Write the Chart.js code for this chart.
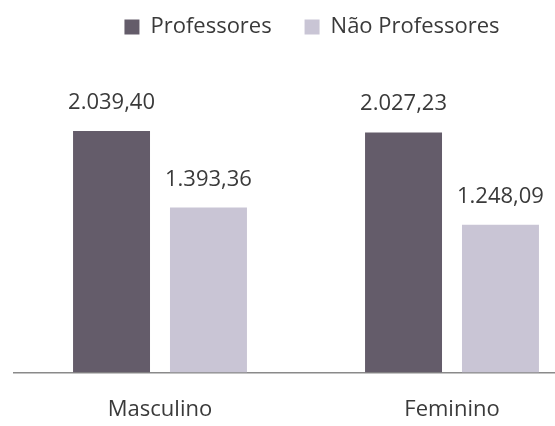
<!DOCTYPE html>
<html>
<head>
<meta charset="utf-8">
<script src="https://cdn.jsdelivr.net/npm/chart.js@4/dist/chart.umd.min.js"></script>
<style>
  html, body { margin: 0; padding: 0; background: #ffffff; overflow: hidden; }
  #wrap { width: 555px; height: 426px; overflow: hidden; position: relative; }
  canvas { display: block; }
</style>
</head>
<body>
<div id="wrap"><canvas id="c" width="600" height="451"></canvas></div>
<script>
const categories = ["Masculino", "Feminino"];
const seriesNames = ["Professores", "Não Professores"];
const professores = [2039.40, 2027.23];
const naoProfessores = [1393.36, 1248.09];

const textColor = "#3a3a3a";
const fontFamily = "'Open Sans', 'DejaVu Sans', sans-serif";

function formatBR(v) {
  const parts = v.toFixed(2).split(".");
  const intPart = parts[0].replace(/\B(?=(\d{3})+(?!\d))/g, ".");
  return intPart + "," + parts[1];
}

const valueLabels = {
  id: "valueLabels",
  afterDatasetsDraw(chart) {
    const ctx = chart.ctx;
    ctx.save();
    ctx.font = "22px " + fontFamily;
    ctx.fillStyle = textColor;
    ctx.textAlign = "center";
    ctx.textBaseline = "alphabetic";
    chart.data.datasets.forEach((ds, di) => {
      const meta = chart.getDatasetMeta(di);
      meta.data.forEach((bar, i) => {
        ctx.fillText(formatBR(ds.data[i]), bar.x, bar.y - 22);
      });
    });
    ctx.restore();
  }
};

const shiftLegend = {
  id: "shiftLegend",
  afterLayout(chart) {
    if (chart.legend) {
      chart.legend.left += 6;
      chart.legend.right += 6;
    }
  }
};

new Chart(document.getElementById("c"), {
  type: "bar",
  data: {
    labels: categories,
    datasets: [
      {
        label: seriesNames[0],
        data: professores,
        backgroundColor: "#645c6a",
        categoryPercentage: 0.664,
        barPercentage: 0.794
      },
      {
        label: seriesNames[1],
        data: naoProfessores,
        backgroundColor: "#c9c5d5",
        categoryPercentage: 0.664,
        barPercentage: 0.794
      }
    ]
  },
  options: {
    responsive: false,
    animation: false,
    devicePixelRatio: 1,
    layout: { padding: { left: 14, right: 2, top: 6, bottom: 4 } },
    plugins: {
      legend: {
        display: true,
        position: "top",
        labels: {
          boxWidth: 15,
          boxHeight: 15,
          padding: 10,
          color: textColor,
          font: { size: 22, family: fontFamily },
          generateLabels(chart) {
            const items = Chart.defaults.plugins.legend.labels.generateLabels(chart);
            items.forEach((it, i) => {
              if (i < items.length - 1) it.text = it.text + "    ";
            });
            return items;
          }
        }
      },
      tooltip: { enabled: false },
      title: { display: false }
    },
    scales: {
      x: {
        grid: { display: false, drawTicks: false },
        border: { display: true, color: "#8a8a8a", width: 1.5 },
        ticks: {
          color: textColor,
          padding: 24,
          font: { size: 22, family: fontFamily }
        }
      },
      y: {
        display: false,
        min: 0,
        max: 2740
      }
    }
  },
  plugins: [valueLabels, shiftLegend]
});
</script>
</body>
</html>
